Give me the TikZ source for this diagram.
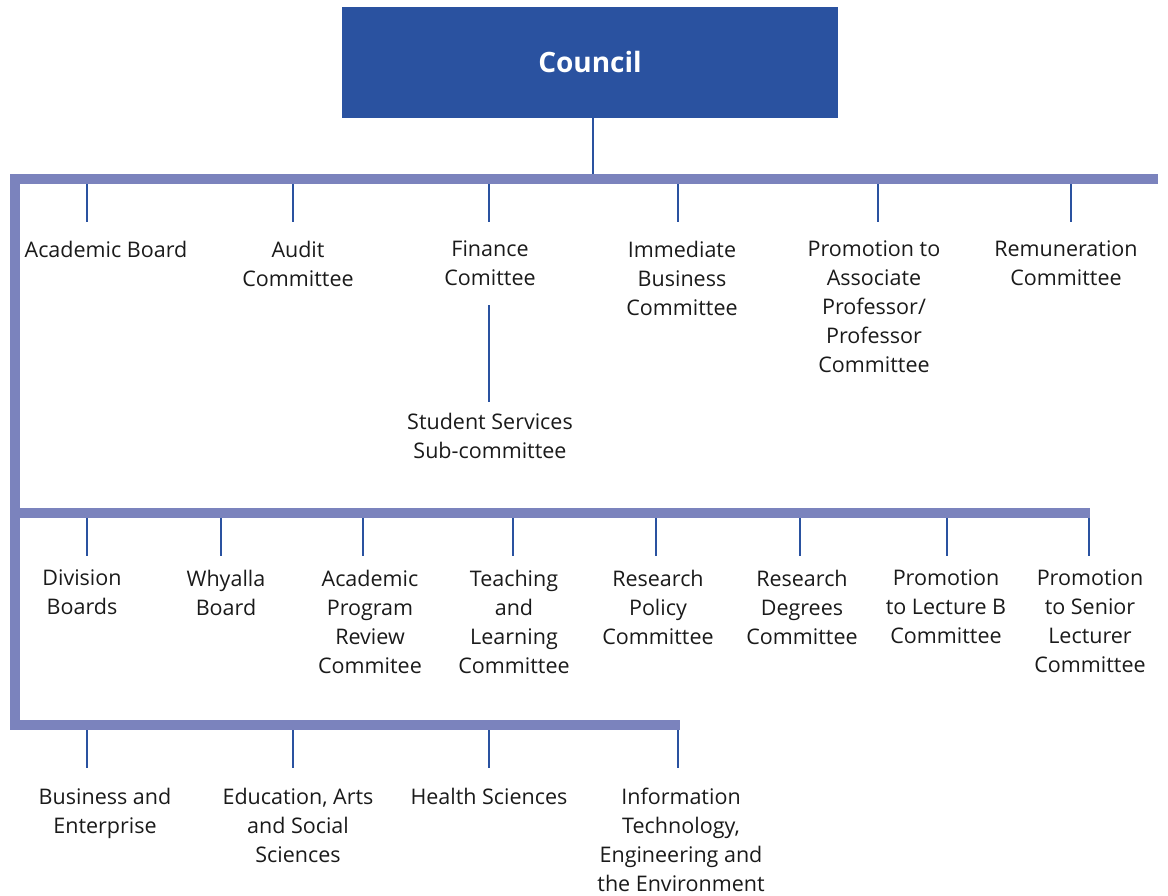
\documentclass[tikz,border=0pt]{standalone}
\usepackage{fontspec}
\setmainfont{Open Sans}
\definecolor{councilc}{HTML}{2A52A0}
\definecolor{barc}{HTML}{7B83BD}
\definecolor{textc}{HTML}{1A1A1A}
\begin{document}
\begin{tikzpicture}[x=1pt,y=-1pt,
  barpart/.style={fill=barc},
  tick/.style={draw=councilc,line width=2pt},
  lbl/.style={font=\fontsize{21.5}{29}\selectfont,align=center,anchor=north,inner sep=0pt,text=textc,execute at begin node=\strut},
  councilbox/.style={fill=councilc,draw=none,minimum width=496pt,minimum height=111pt,inner sep=0pt}]
\useasboundingbox (0,0) rectangle (1168,895);
% Council
\node[councilbox] (council) at (590,62.5) {};
\node[font=\fontsize{28}{34}\bfseries\selectfont,text=white,anchor=base,inner sep=0pt] (counciltxt) at (590,72) {Council};
% bars
\fill[barpart] (10,174) rectangle (1158,184);
\fill[barpart] (10,174) rectangle (20,730);
\fill[barpart] (10,508) rectangle (1090,518);
\fill[barpart] (10,720) rectangle (680,730);
\coordinate (bar1) at (593,174);
\draw[councilc,line width=2.7pt] (council.south -| bar1) -- (bar1);
% row 1 labels
\node[lbl] (ab) at (106,236.7) {Academic Board};
\node[lbl] (audit) at (298,240.7) {Audit\\Committee};
\node[lbl] (fin) at (490,240.7) {Finance\\Comittee};
\node[lbl] (imm) at (682,240.7) {Immediate\\Business\\Committee};
\node[lbl] (prom) at (874,240.7) {Promotion to\\Associate\\Professor/\\Professor\\Committee};
\node[lbl] (rem) at (1066,240.7) {Remuneration\\Committee};
\node[lbl] (sss) at (490,412.7) {Student Services\\Sub-committee};
% row 1 ticks
\foreach \x/\n in {87/a,293/b,489/c,678/d,878/e,1071/f}{
  \coordinate (t1\n) at (\x,184);
  \coordinate (e1\n) at (\x,222);
  \draw[tick] (t1\n) -- (e1\n);
}
\coordinate (fs1) at (489,305);
\coordinate (fs2) at (489,402);
\draw[tick] (fs1) -- (fs2);
% row 2 labels
\node[lbl] (div) at (82,569.7) {Division\\Boards};
\node[lbl] (why) at (226,569.7) {Whyalla\\Board};
\node[lbl] (apr) at (370,569.7) {Academic\\Program\\Review\\Commitee};
\node[lbl] (tlc) at (514,569.7) {Teaching\\and\\Learning\\Committee};
\node[lbl] (rpc) at (658,569.7) {Research\\Policy\\Committee};
\node[lbl] (rdc) at (802,569.7) {Research\\Degrees\\Committee};
\node[lbl] (plb) at (946,569.7) {Promotion\\to Lecture B\\Committee};
\node[lbl] (psl) at (1090,569.7) {Promotion\\to Senior\\Lecturer\\Committee};
\foreach \x/\n in {87/a,221/b,363/c,513/d,656/e,800/f,947/g,1089/h}{
  \coordinate (t2\n) at (\x,518);
  \coordinate (e2\n) at (\x,556);
  \draw[tick] (t2\n) -- (e2\n);
}
% row 3 labels
\node[lbl] (bus) at (105,787.7) {Business and\\Enterprise};
\node[lbl] (edu) at (298,787.7) {Education, Arts\\and Social\\Sciences};
\node[lbl] (hs) at (489,783.7) {Health Sciences};
\node[lbl] (ite) at (681,787.7) {Information\\Technology,\\Engineering and\\the Environment};
\foreach \x/\n in {87/a,293/b,489/c,678/d}{
  \coordinate (t3\n) at (\x,730);
  \coordinate (e3\n) at (\x,768);
  \draw[tick] (t3\n) -- (e3\n);
}
\end{tikzpicture}
\end{document}
